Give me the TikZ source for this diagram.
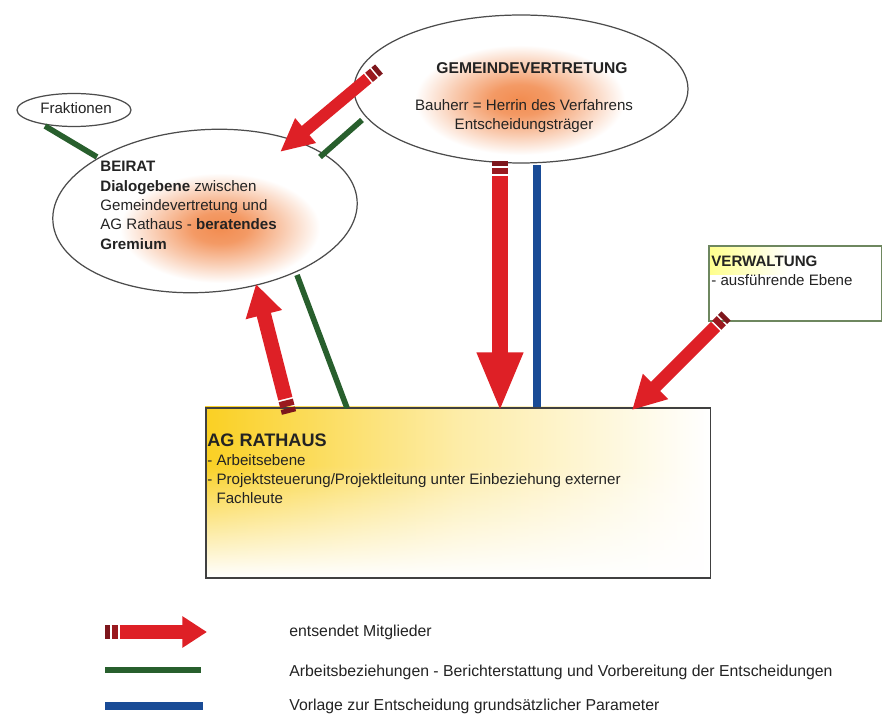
\documentclass[tikz,border=0pt]{standalone}
\usepackage{fontspec}
\setmainfont{Liberation Sans}
\usetikzlibrary{shapes.geometric,arrows.meta,calc,fadings}
\definecolor{arrred}{RGB}{222,32,38}
\definecolor{arrdark}{RGB}{125,22,28}
\definecolor{relgreen}{RGB}{40,95,45}
\definecolor{relblue}{RGB}{25,75,150}
\definecolor{glow}{RGB}{242,140,80}
\definecolor{agyellow}{RGB}{250,208,35}
\definecolor{vwborder}{RGB}{110,135,95}
\definecolor{txt}{RGB}{35,35,35}
\pgfdeclareradialshading{glowshade}{\pgfpoint{0bp}{0bp}}{color(0bp)=(glow); color(7bp)=(glow!88!white); color(16bp)=(glow!45!white); color(25bp)=(white); color(50bp)=(white)}
\newcommand\bodyfont{\fontsize{8.6}{11}\selectfont}
\newcommand\memarrow[5]{%
  \draw[line width=#3, draw=arrdark] (#1) -- ($(#1)!2.8pt!(#2)$);
  \draw[line width=#3, draw=arrdark!70!arrred] ($(#1)!3.8pt!(#2)$) -- ($(#1)!7.4pt!(#2)$);
  \draw[line width=#3, draw=arrred, -{Triangle[width=#4,length=#5]}] ($(#1)!8.4pt!(#2)$) -- (#2);
}
\tikzset{
  bubble/.style={draw=black!70, line width=0.7pt, fill=white, ellipse, inner sep=0pt},
  workline/.style={draw=relgreen, line width=3.2pt},
  decline/.style={draw=relblue, line width=4.3pt},
  lbl/.style={font=\bodyfont, text=txt, inner sep=0pt},
  legendlbl/.style={font=\fontsize{9}{11}\selectfont, text=txt, inner sep=0pt, anchor=west},
}
\begin{document}
\begin{tikzpicture}[x=0.02cm, y=-0.02cm]
\useasboundingbox[fill=white] (0,0) rectangle (882,722);

% ---- AG Rathaus box
\shade[left color=agyellow, right color=white, middle color=agyellow!40] (205,407) rectangle (710,577);
\fill[white, path fading=north] (205,465) rectangle (710,577);
\node[draw=black!75, line width=0.9pt, minimum width=10.1cm, minimum height=3.4cm, anchor=north west, inner sep=0pt] (ag) at (205,407) {};
\node[lbl, anchor=west, font=\fontsize{10.3}{12}\selectfont\bfseries] (agtitle) at (207,440) {AG RATHAUS};
\node[lbl, anchor=north west, align=left] (agtext) at (207,454)
  {- Arbeitsebene\\- Projektsteuerung/Projektleitung unter Einbeziehung externer\\\hphantom{- }Fachleute};

% ---- Verwaltung box
\shade[left color=yellow!45, right color=white] (709,247) rectangle (790,275);
\node[draw=vwborder, line width=0.9pt, minimum width=3.46cm, minimum height=1.5cm, anchor=north west, inner sep=0pt] (vw) at (708,245) {};
\node[lbl, anchor=west, font=\bodyfont\bfseries] (vwtitle) at (711,261) {VERWALTUNG};
\node[lbl, anchor=west] (vwtext) at (711,280) {- ausführende Ebene};

% ---- Gemeindevertretung
\node[bubble, minimum width=6.68cm, minimum height=2.96cm] (gv) at (521,89) {};
\shade[shading=glowshade] (520,100) ellipse (105 and 55);
\node[lbl, font=\fontsize{8.9}{11}\selectfont\bfseries] (gvtitle) at (532,68) {GEMEINDEVERTRETUNG};
\node[lbl, align=center] (gvtext) at (524,116) {Bauherr = Herrin des Verfahrens\\Entscheidungsträger};

% ---- Fraktionen
\node[bubble, minimum width=2.28cm, minimum height=0.66cm] (fr) at (74,110) {};
\node[lbl] (frtext) at (76,108) {Fraktionen};

% ---- Beirat
\node[bubble, minimum width=6.1cm, minimum height=3.25cm, rotate=4] (br) at (205,211) {};
\shade[shading=glowshade] (220,228) ellipse (100 and 55);
\node[lbl, anchor=north west, align=left] (brtext) at (100,161)
  {\textbf{BEIRAT}\\\textbf{Dialogebene} zwischen\\Gemeindevertretung und\\AG Rathaus - \textbf{beratendes}\\\textbf{Gremium}};

% ---- connector end points
\coordinate (frG) at (45,126);   \coordinate (brG3) at (97,157);
\coordinate (gvTail) at (379,69); \coordinate (brTipA) at (280,152);
\coordinate (gvG) at (362,120);  \coordinate (brG) at (320,157);
\coordinate (agTail) at (289,413); \coordinate (brTipB) at (256,284);
\coordinate (agG) at (347,408);  \coordinate (brG2) at (297,275);
\coordinate (gvTailV) at (500,161); \coordinate (agTipV) at (500,412);
\coordinate (gvB) at (537,165);  \coordinate (agB) at (537,407);
\coordinate (vwTail) at (726,316); \coordinate (agTipW) at (632,410);

% ---- connectors
\draw[workline] (frG) -- (brG3);
\draw[workline] (gvG) -- (brG);
\draw[workline] (agG) -- (brG2);
\draw[decline] (gvB) -- (agB);
\memarrow{gvTail}{brTipA}{6.8pt}{17pt}{19pt}
\memarrow{agTail}{brTipB}{8.3pt}{20pt}{18pt}
\memarrow{gvTailV}{agTipV}{9pt}{24pt}{34pt}
\memarrow{vwTail}{agTipW}{7.4pt}{19pt}{19pt}

% ---- legend
\coordinate (lgA1) at (105,632); \coordinate (lgA2) at (207,632);
\coordinate (lgG1) at (105,670); \coordinate (lgG2) at (201,670);
\coordinate (lgB1) at (105,706); \coordinate (lgB2) at (203,706);
\memarrow{lgA1}{lgA2}{8pt}{17pt}{14pt}
\draw[workline] (lgG1) -- (lgG2);
\draw[decline] (lgB1) -- (lgB2);
\node[legendlbl] (lgAt) at (289,632) {entsendet Mitglieder};
\node[legendlbl] (lgGt) at (289,672) {Arbeitsbeziehungen - Berichterstattung und Vorbereitung der Entscheidungen};
\node[legendlbl] (lgBt) at (289,706) {Vorlage zur Entscheidung grundsätzlicher Parameter};
\end{tikzpicture}
\end{document}
